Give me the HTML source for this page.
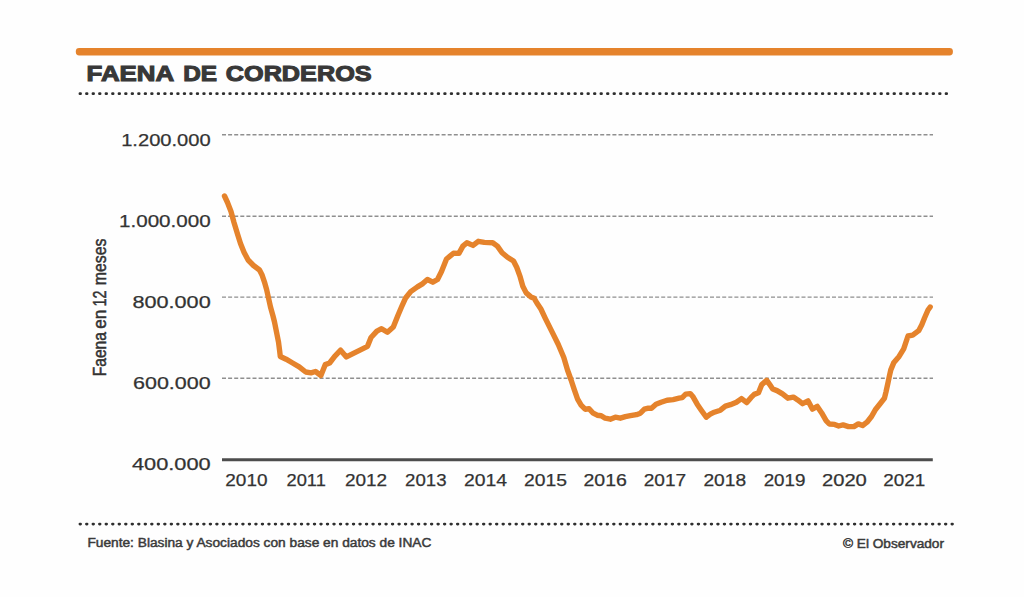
<!DOCTYPE html>
<html><head><meta charset="utf-8"><style>
html,body{margin:0;padding:0;background:#fefefe;}
body{width:1024px;height:597px;overflow:hidden;}
svg{display:block;font-family:"Liberation Sans",sans-serif;}
.title{font-weight:bold;font-size:22.2px;fill:#383838;stroke:#383838;stroke-width:1.1px;}
.ax{font-size:17px;fill:#333333;stroke:#333333;stroke-width:0.25px;}
.ylab{font-size:18px;fill:#333333;stroke:#333333;stroke-width:0.5px;}
.foot{font-size:12px;fill:#3a3a3a;stroke:#3a3a3a;stroke-width:0.45px;}
</style></head><body>
<svg width="1024" height="597" viewBox="0 0 1024 597">
<rect x="75.8" y="47.9" width="877.1" height="7.5" rx="3.4" fill="#e5832c"/>
<text x="86.6" y="81.2" class="title" textLength="87.6" lengthAdjust="spacingAndGlyphs">FAENA</text>
<text x="183.3" y="81.2" class="title" textLength="33.8" lengthAdjust="spacingAndGlyphs">DE</text>
<text x="225.8" y="81.2" class="title" textLength="145.8" lengthAdjust="spacingAndGlyphs">CORDEROS</text>
<line x1="79.9" y1="93.7" x2="947" y2="93.7" stroke="#2e2e2e" stroke-width="2.7" stroke-linecap="round" stroke-dasharray="0.7 5.812"/>
<line x1="222" y1="134.8" x2="933" y2="134.8" stroke="#8f8f8f" stroke-width="1.4" stroke-dasharray="4 2.1"/>
<line x1="222" y1="216.2" x2="933" y2="216.2" stroke="#8f8f8f" stroke-width="1.4" stroke-dasharray="4 2.1"/>
<line x1="222" y1="297.1" x2="933" y2="297.1" stroke="#8f8f8f" stroke-width="1.4" stroke-dasharray="4 2.1"/>
<line x1="222" y1="378.3" x2="933" y2="378.3" stroke="#8f8f8f" stroke-width="1.4" stroke-dasharray="4 2.1"/>
<line x1="222" y1="459.7" x2="932.8" y2="459.7" stroke="#4d4d4d" stroke-width="3"/>
<text x="210.7" y="145.5" class="ax" text-anchor="end" textLength="89.5" lengthAdjust="spacingAndGlyphs">1.200.000</text>
<text x="210.7" y="227.0" class="ax" text-anchor="end" textLength="91.7" lengthAdjust="spacingAndGlyphs">1.000.000</text>
<text x="210.7" y="308.2" class="ax" text-anchor="end" textLength="78.3" lengthAdjust="spacingAndGlyphs">800.000</text>
<text x="210.7" y="388.5" class="ax" text-anchor="end" textLength="77.7" lengthAdjust="spacingAndGlyphs">600.000</text>
<text x="210.7" y="470.4" class="ax" text-anchor="end" textLength="78.8" lengthAdjust="spacingAndGlyphs">400.000</text>
<text x="246.4" y="486.1" class="ax" text-anchor="middle" textLength="42.2" lengthAdjust="spacingAndGlyphs">2010</text>
<text x="306.2" y="486.1" class="ax" text-anchor="middle" textLength="39.3" lengthAdjust="spacingAndGlyphs">2011</text>
<text x="366.0" y="486.1" class="ax" text-anchor="middle" textLength="42.2" lengthAdjust="spacingAndGlyphs">2012</text>
<text x="425.8" y="486.1" class="ax" text-anchor="middle" textLength="41.4" lengthAdjust="spacingAndGlyphs">2013</text>
<text x="485.6" y="486.1" class="ax" text-anchor="middle" textLength="43.1" lengthAdjust="spacingAndGlyphs">2014</text>
<text x="545.4" y="486.1" class="ax" text-anchor="middle" textLength="43.0" lengthAdjust="spacingAndGlyphs">2015</text>
<text x="605.2" y="486.1" class="ax" text-anchor="middle" textLength="43.4" lengthAdjust="spacingAndGlyphs">2016</text>
<text x="665.0" y="486.1" class="ax" text-anchor="middle" textLength="42.5" lengthAdjust="spacingAndGlyphs">2017</text>
<text x="724.8" y="486.1" class="ax" text-anchor="middle" textLength="42.7" lengthAdjust="spacingAndGlyphs">2018</text>
<text x="784.6" y="486.1" class="ax" text-anchor="middle" textLength="41.9" lengthAdjust="spacingAndGlyphs">2019</text>
<text x="844.4" y="486.1" class="ax" text-anchor="middle" textLength="44.9" lengthAdjust="spacingAndGlyphs">2020</text>
<text x="904.2" y="486.1" class="ax" text-anchor="middle" textLength="42.0" lengthAdjust="spacingAndGlyphs">2021</text>
<text transform="translate(106.1,376.3) rotate(-90)" class="ylab" textLength="44.2" lengthAdjust="spacingAndGlyphs">Faena</text>
<text transform="translate(106.1,328.8) rotate(-90)" class="ylab" textLength="19.1" lengthAdjust="spacingAndGlyphs">en</text>
<text transform="translate(106.1,306.5) rotate(-90)" class="ylab" textLength="16.0" lengthAdjust="spacingAndGlyphs">12</text>
<text transform="translate(106.1,285.3) rotate(-90)" class="ylab" textLength="46.8" lengthAdjust="spacingAndGlyphs">meses</text>
<polyline points="224.5,196 227.5,202.5 231,211.5 234,222.5 237.5,234 240.5,243.5 244,252.2 248.1,260 253.5,265.5 259.5,270 262.2,275.3 264.4,281.8 266.6,289.5 268.3,297 270.5,307 273,316 274.5,322 276.3,331 278.5,342 279.6,350.5 280.3,356.5 286.1,359.2 292.6,363 299.2,366.8 305.7,372 311,372.8 315.5,371.5 320.9,375.5 325.3,364.6 329.6,363 334.7,356.3 340.6,350.2 346.4,356.9 353.4,353.3 360.5,349.8 367.5,346.3 371,337.5 376.9,331.1 381.6,328.7 387.4,332.2 393.3,327 398,315.2 401.5,307 405.4,298.3 410.7,291.6 417.4,286.9 422.8,283.6 427.4,279.5 432.8,282.2 437.5,279.5 441.5,271.5 446.5,259 450.9,255.4 453.5,253.2 458.9,253.4 462.9,246.1 466.9,242.7 473,245.4 478.3,241.3 484.3,242.4 492.7,242.7 497.4,246.1 502.1,252.8 507.5,257.3 513.5,261 516.8,267.5 520.2,276.9 522.8,286.2 526.2,292.9 530.9,296.9 534.2,298.3 536.9,303 540.9,309 545.3,318.3 551.8,331.4 558.3,344.5 563.8,357.5 567.5,370 571.1,380 574.1,389.1 577.6,399.1 581.1,405.2 585.1,409.2 589.1,408.7 593.2,413.2 597.2,415.2 601.2,415.7 605.2,418.2 610.3,419.2 615.3,417.2 620.3,418.2 625.3,416.7 630.4,415.7 636.4,414.7 640.4,413.2 644.4,409.2 648.4,408.2 651.5,408.2 656,404.2 661.1,402.2 667.1,400.2 673.1,399.6 679.1,398.1 682.2,397.6 685.7,394.1 690.2,393.6 693.2,397.1 697.2,404.2 701.3,410.2 706.3,417.2 710.3,414.2 714.3,412.2 720.4,410.2 725.4,406.2 730.4,404.7 736.4,402.2 741.5,398.6 746.8,402.6 750.9,397.7 754.2,394.4 758.5,392.8 761.8,384.6 766.7,380.3 769.4,384.1 772.7,389 777,390.6 782.5,393.9 787.9,398.2 793.4,397.1 797.7,399.9 802.6,403.7 808.1,400.9 812.4,409.1 817.3,406.4 821.7,412.9 826.1,420.6 829.3,424 834.6,424.4 838.7,426 843.1,424.9 848.5,426.6 853.9,426.6 858.3,423.9 862.6,425.5 867,422.2 871.3,416.8 875.7,409.2 880.1,403.7 884.4,398.3 886,391.8 887.7,384.1 889.3,376.5 890.8,369.9 893.9,362.4 899.1,356.4 903.7,348.8 908,336 912.7,335.2 918.7,330.7 921.8,324.7 924.5,318 928,310 930.2,307" fill="none" stroke="#e5832c" stroke-width="5.4" stroke-linejoin="round" stroke-linecap="round"/>
<line x1="79.9" y1="524.1" x2="952.8" y2="524.1" stroke="#2e2e2e" stroke-width="2.7" stroke-linecap="round" stroke-dasharray="0.7 5.807"/>
<text x="87.4" y="546.8" class="foot" textLength="344" lengthAdjust="spacingAndGlyphs">Fuente: Blasina y Asociados con base en datos de INAC</text>
<text x="843" y="547.7" class="foot" textLength="101" lengthAdjust="spacingAndGlyphs">© El Observador</text>
</svg>
</body></html>
